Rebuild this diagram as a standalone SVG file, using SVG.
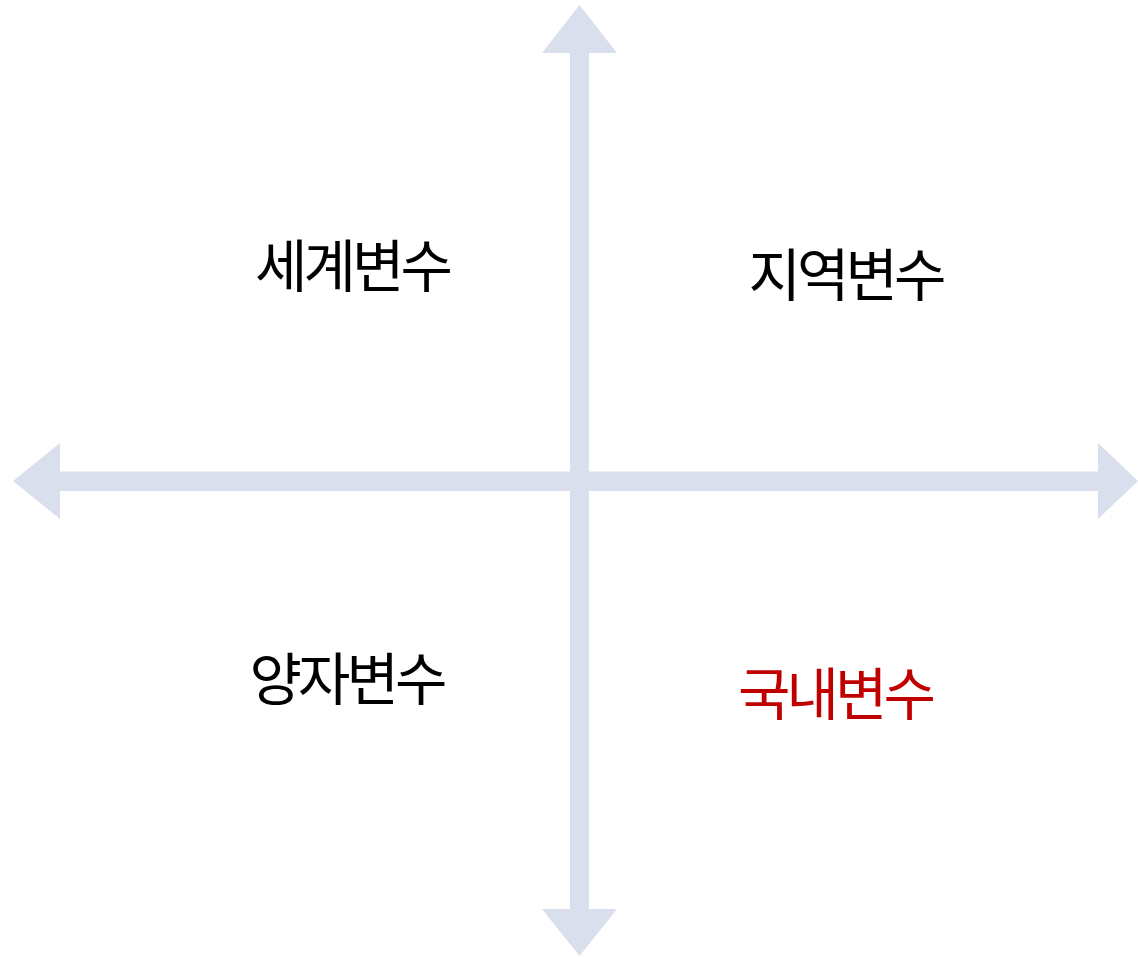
<svg xmlns="http://www.w3.org/2000/svg" width="1138" height="957" viewBox="0 0 1138 957">
<style>
.axis{fill:#D9DFEC;stroke:none}
.lbl{font-family:"Noto Sans CJK KR","Noto Sans",sans-serif;font-size:57px;letter-spacing:-4px;text-anchor:middle;fill:#000}
.red{fill:#C00000}
</style>
<rect width="1138" height="957" fill="#FFFFFF"/>
<g id="connectors">
<polygon class="axis" points="13,481 60,443 60,471.5 1098,471.5 1098,443 1138,481 1098,519 1098,491 60,491 60,519"/>
<polygon class="axis" points="579.5,5 617,53 589,53 589,909 617,909 579.5,956 542,909 570,909 570,53 542,53"/>
</g>
<g id="world"><text class="lbl" x="352" y="287">세계변수</text></g>
<g id="region"><text class="lbl" x="845.5" y="296">지역변수</text></g>
<g id="bilateral"><text class="lbl" x="346.5" y="700">양자변수</text></g>
<g id="domestic"><text class="lbl red" x="835" y="715">국내변수</text></g>
</svg>
